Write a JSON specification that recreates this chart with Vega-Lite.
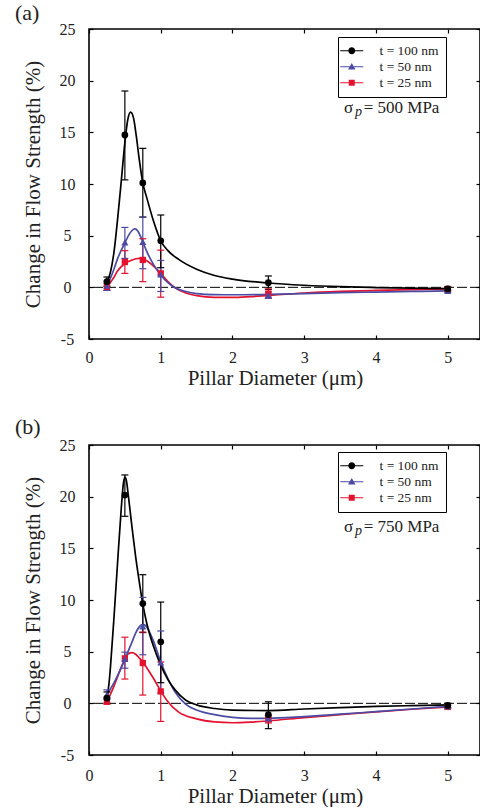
{
  "$schema": "https://vega.github.io/schema/vega-lite/v6.json",
  "background": "white",
  "padding": {"left": 14, "top": 1, "right": 0, "bottom": 0},
  "spacing": 26,
  "config": {
    "font": "Liberation Serif",
    "view": {"stroke": "black", "strokeWidth": 1.6},
    "axis": {"grid": false, "domain": false, "tickColor": "black", "tickSize": -4, "tickWidth": 1.2, "labelFont": "Liberation Serif", "labelFontSize": 16, "labelColor": "#222", "titleFont": "Liberation Serif", "titleFontSize": 21, "titleFontWeight": "normal", "titleColor": "#222", "labelFlush": false},
    "legend": {"orient": "none", "title": null, "strokeColor": "black", "fillColor": "white", "padding": 7, "symbolSize": 100, "labelFont": "Liberation Serif", "labelFontSize": 13.5, "labelColor": "#222", "labelOffset": 21, "rowPadding": 1, "symbolStrokeWidth": 0, "symbolOpacity": 1}
  },
  "resolve": {"scale": {"color": "independent", "shape": "independent"}, "legend": {"color": "independent", "shape": "independent"}},
  "datasets": {
    "pts": [
      {"panel":"a","series":"t = 25 nm","d":0.25,"v":0.05,"lo":-0.3,"hi":0.4},
      {"panel":"a","series":"t = 25 nm","d":0.5,"v":2.45,"lo":1.35,"hi":3.55},
      {"panel":"a","series":"t = 25 nm","d":0.75,"v":2.65,"lo":0.55,"hi":4.7},
      {"panel":"a","series":"t = 25 nm","d":1.0,"v":1.35,"lo":-0.95,"hi":3.6},
      {"panel":"a","series":"t = 25 nm","d":2.5,"v":-0.6,"lo":-1.05,"hi":-0.15},
      {"panel":"a","series":"t = 25 nm","d":5.0,"v":-0.15,"lo":-0.35,"hi":0.05},
      {"panel":"a","series":"t = 50 nm","d":0.25,"v":0.15,"lo":-0.3,"hi":0.6},
      {"panel":"a","series":"t = 50 nm","d":0.5,"v":4.35,"lo":2.8,"hi":5.8},
      {"panel":"a","series":"t = 50 nm","d":0.75,"v":4.4,"lo":1.8,"hi":6.8},
      {"panel":"a","series":"t = 50 nm","d":1.0,"v":1.25,"lo":-0.4,"hi":2.6},
      {"panel":"a","series":"t = 50 nm","d":2.5,"v":-0.75,"lo":-1.05,"hi":-0.45},
      {"panel":"a","series":"t = 50 nm","d":5.0,"v":-0.35,"lo":-0.5,"hi":-0.2},
      {"panel":"a","series":"t = 100 nm","d":0.25,"v":0.55,"lo":0.1,"hi":1.0},
      {"panel":"a","series":"t = 100 nm","d":0.5,"v":14.75,"lo":10.4,"hi":19.0},
      {"panel":"a","series":"t = 100 nm","d":0.75,"v":10.1,"lo":6.8,"hi":13.45},
      {"panel":"a","series":"t = 100 nm","d":1.0,"v":4.5,"lo":1.9,"hi":7.0},
      {"panel":"a","series":"t = 100 nm","d":2.5,"v":0.45,"lo":-0.2,"hi":1.1},
      {"panel":"a","series":"t = 100 nm","d":5.0,"v":-0.15,"lo":-0.35,"hi":0.05},
      {"panel":"b","series":"t = 25 nm","d":0.25,"v":0.25,"lo":-0.1,"hi":0.6},
      {"panel":"b","series":"t = 25 nm","d":0.5,"v":4.35,"lo":2.35,"hi":6.4},
      {"panel":"b","series":"t = 25 nm","d":0.75,"v":3.9,"lo":0.8,"hi":6.9},
      {"panel":"b","series":"t = 25 nm","d":1.0,"v":1.15,"lo":-1.75,"hi":4.0},
      {"panel":"b","series":"t = 25 nm","d":2.5,"v":-1.55,"lo":-1.9,"hi":-1.2},
      {"panel":"b","series":"t = 25 nm","d":5.0,"v":-0.35,"lo":-0.5,"hi":-0.2},
      {"panel":"b","series":"t = 50 nm","d":0.25,"v":0.85,"lo":0.4,"hi":1.3},
      {"panel":"b","series":"t = 50 nm","d":0.5,"v":4.3,"lo":3.4,"hi":4.95},
      {"panel":"b","series":"t = 50 nm","d":0.75,"v":7.45,"lo":4.7,"hi":10.25},
      {"panel":"b","series":"t = 50 nm","d":1.0,"v":3.95,"lo":1.0,"hi":7.0},
      {"panel":"b","series":"t = 50 nm","d":2.5,"v":-1.45,"lo":-1.75,"hi":-1.15},
      {"panel":"b","series":"t = 50 nm","d":5.0,"v":-0.3,"lo":-0.45,"hi":-0.15},
      {"panel":"b","series":"t = 100 nm","d":0.25,"v":0.5,"lo":0.0,"hi":1.1},
      {"panel":"b","series":"t = 100 nm","d":0.5,"v":20.15,"lo":18.1,"hi":22.1},
      {"panel":"b","series":"t = 100 nm","d":0.75,"v":9.65,"lo":6.85,"hi":12.45},
      {"panel":"b","series":"t = 100 nm","d":1.0,"v":5.95,"lo":2.0,"hi":9.8},
      {"panel":"b","series":"t = 100 nm","d":2.5,"v":-1.1,"lo":-2.45,"hi":0.15},
      {"panel":"b","series":"t = 100 nm","d":5.0,"v":-0.2,"lo":-0.4,"hi":0.0}
    ],
    "curves": [
      {"panel":"a","series":"t = 25 nm","d":0.25,"v":0.05},{"panel":"a","series":"t = 25 nm","d":0.3,"v":0.5},{"panel":"a","series":"t = 25 nm","d":0.35,"v":1.0},{"panel":"a","series":"t = 25 nm","d":0.4,"v":1.6},{"panel":"a","series":"t = 25 nm","d":0.45,"v":2.0},{"panel":"a","series":"t = 25 nm","d":0.5,"v":2.3},{"panel":"a","series":"t = 25 nm","d":0.55,"v":2.5},{"panel":"a","series":"t = 25 nm","d":0.6,"v":2.65},{"panel":"a","series":"t = 25 nm","d":0.7,"v":2.8},{"panel":"a","series":"t = 25 nm","d":0.75,"v":2.75},{"panel":"a","series":"t = 25 nm","d":0.8,"v":2.6},{"panel":"a","series":"t = 25 nm","d":0.9,"v":2.05},{"panel":"a","series":"t = 25 nm","d":1.0,"v":1.35},{"panel":"a","series":"t = 25 nm","d":1.1,"v":0.55},{"panel":"a","series":"t = 25 nm","d":1.2,"v":-0.05},{"panel":"a","series":"t = 25 nm","d":1.35,"v":-0.55},{"panel":"a","series":"t = 25 nm","d":1.5,"v":-0.8},{"panel":"a","series":"t = 25 nm","d":1.75,"v":-0.97},{"panel":"a","series":"t = 25 nm","d":2.0,"v":-0.98},{"panel":"a","series":"t = 25 nm","d":2.25,"v":-0.9},{"panel":"a","series":"t = 25 nm","d":2.5,"v":-0.78},{"panel":"a","series":"t = 25 nm","d":3.0,"v":-0.55},{"panel":"a","series":"t = 25 nm","d":3.5,"v":-0.4},{"panel":"a","series":"t = 25 nm","d":4.0,"v":-0.3},{"panel":"a","series":"t = 25 nm","d":4.5,"v":-0.22},{"panel":"a","series":"t = 25 nm","d":5.0,"v":-0.15},
      {"panel":"a","series":"t = 50 nm","d":0.25,"v":0.2},{"panel":"a","series":"t = 50 nm","d":0.3,"v":0.9},{"panel":"a","series":"t = 50 nm","d":0.35,"v":1.8},{"panel":"a","series":"t = 50 nm","d":0.4,"v":2.8},{"panel":"a","series":"t = 50 nm","d":0.45,"v":3.6},{"panel":"a","series":"t = 50 nm","d":0.5,"v":4.3},{"panel":"a","series":"t = 50 nm","d":0.55,"v":5.0},{"panel":"a","series":"t = 50 nm","d":0.6,"v":5.5},{"panel":"a","series":"t = 50 nm","d":0.64,"v":5.65},{"panel":"a","series":"t = 50 nm","d":0.68,"v":5.45},{"panel":"a","series":"t = 50 nm","d":0.72,"v":4.9},{"panel":"a","series":"t = 50 nm","d":0.75,"v":4.4},{"panel":"a","series":"t = 50 nm","d":0.8,"v":3.55},{"panel":"a","series":"t = 50 nm","d":0.9,"v":2.2},{"panel":"a","series":"t = 50 nm","d":1.0,"v":1.2},{"panel":"a","series":"t = 50 nm","d":1.1,"v":0.45},{"panel":"a","series":"t = 50 nm","d":1.2,"v":-0.05},{"panel":"a","series":"t = 50 nm","d":1.35,"v":-0.4},{"panel":"a","series":"t = 50 nm","d":1.5,"v":-0.6},{"panel":"a","series":"t = 50 nm","d":1.75,"v":-0.7},{"panel":"a","series":"t = 50 nm","d":2.0,"v":-0.72},{"panel":"a","series":"t = 50 nm","d":2.5,"v":-0.68},{"panel":"a","series":"t = 50 nm","d":3.0,"v":-0.6},{"panel":"a","series":"t = 50 nm","d":3.5,"v":-0.52},{"panel":"a","series":"t = 50 nm","d":4.0,"v":-0.46},{"panel":"a","series":"t = 50 nm","d":4.5,"v":-0.4},{"panel":"a","series":"t = 50 nm","d":5.0,"v":-0.35},
      {"panel":"a","series":"t = 100 nm","d":0.25,"v":0.5},{"panel":"a","series":"t = 100 nm","d":0.3,"v":1.5},{"panel":"a","series":"t = 100 nm","d":0.35,"v":3.5},{"panel":"a","series":"t = 100 nm","d":0.4,"v":6.7},{"panel":"a","series":"t = 100 nm","d":0.45,"v":10.3},{"panel":"a","series":"t = 100 nm","d":0.5,"v":14.0},{"panel":"a","series":"t = 100 nm","d":0.54,"v":16.2},{"panel":"a","series":"t = 100 nm","d":0.58,"v":16.95},{"panel":"a","series":"t = 100 nm","d":0.62,"v":16.4},{"panel":"a","series":"t = 100 nm","d":0.66,"v":14.6},{"panel":"a","series":"t = 100 nm","d":0.7,"v":12.4},{"panel":"a","series":"t = 100 nm","d":0.75,"v":10.1},{"panel":"a","series":"t = 100 nm","d":0.8,"v":8.8},{"panel":"a","series":"t = 100 nm","d":0.9,"v":6.4},{"panel":"a","series":"t = 100 nm","d":1.0,"v":4.5},{"panel":"a","series":"t = 100 nm","d":1.1,"v":3.55},{"panel":"a","series":"t = 100 nm","d":1.25,"v":2.7},{"panel":"a","series":"t = 100 nm","d":1.5,"v":1.75},{"panel":"a","series":"t = 100 nm","d":1.75,"v":1.15},{"panel":"a","series":"t = 100 nm","d":2.0,"v":0.8},{"panel":"a","series":"t = 100 nm","d":2.5,"v":0.42},{"panel":"a","series":"t = 100 nm","d":3.0,"v":0.2},{"panel":"a","series":"t = 100 nm","d":3.5,"v":0.06},{"panel":"a","series":"t = 100 nm","d":4.0,"v":-0.02},{"panel":"a","series":"t = 100 nm","d":4.5,"v":-0.08},{"panel":"a","series":"t = 100 nm","d":5.0,"v":-0.12},
      {"panel":"b","series":"t = 25 nm","d":0.25,"v":0.3},{"panel":"b","series":"t = 25 nm","d":0.3,"v":0.9},{"panel":"b","series":"t = 25 nm","d":0.35,"v":1.7},{"panel":"b","series":"t = 25 nm","d":0.4,"v":2.6},{"panel":"b","series":"t = 25 nm","d":0.45,"v":3.5},{"panel":"b","series":"t = 25 nm","d":0.5,"v":4.3},{"panel":"b","series":"t = 25 nm","d":0.55,"v":4.8},{"panel":"b","series":"t = 25 nm","d":0.6,"v":4.9},{"panel":"b","series":"t = 25 nm","d":0.65,"v":4.75},{"panel":"b","series":"t = 25 nm","d":0.7,"v":4.4},{"panel":"b","series":"t = 25 nm","d":0.75,"v":4.0},{"panel":"b","series":"t = 25 nm","d":0.8,"v":3.5},{"panel":"b","series":"t = 25 nm","d":0.9,"v":2.4},{"panel":"b","series":"t = 25 nm","d":1.0,"v":1.2},{"panel":"b","series":"t = 25 nm","d":1.1,"v":0.15},{"panel":"b","series":"t = 25 nm","d":1.25,"v":-0.85},{"panel":"b","series":"t = 25 nm","d":1.5,"v":-1.5},{"panel":"b","series":"t = 25 nm","d":1.75,"v":-1.8},{"panel":"b","series":"t = 25 nm","d":2.0,"v":-1.88},{"panel":"b","series":"t = 25 nm","d":2.25,"v":-1.82},{"panel":"b","series":"t = 25 nm","d":2.5,"v":-1.7},{"panel":"b","series":"t = 25 nm","d":3.0,"v":-1.38},{"panel":"b","series":"t = 25 nm","d":3.5,"v":-1.1},{"panel":"b","series":"t = 25 nm","d":4.0,"v":-0.82},{"panel":"b","series":"t = 25 nm","d":4.5,"v":-0.57},{"panel":"b","series":"t = 25 nm","d":5.0,"v":-0.35},
      {"panel":"b","series":"t = 50 nm","d":0.25,"v":0.85},{"panel":"b","series":"t = 50 nm","d":0.3,"v":1.4},{"panel":"b","series":"t = 50 nm","d":0.35,"v":2.0},{"panel":"b","series":"t = 50 nm","d":0.4,"v":2.7},{"panel":"b","series":"t = 50 nm","d":0.45,"v":3.45},{"panel":"b","series":"t = 50 nm","d":0.5,"v":4.25},{"panel":"b","series":"t = 50 nm","d":0.55,"v":5.1},{"panel":"b","series":"t = 50 nm","d":0.6,"v":5.95},{"panel":"b","series":"t = 50 nm","d":0.65,"v":6.8},{"panel":"b","series":"t = 50 nm","d":0.7,"v":7.4},{"panel":"b","series":"t = 50 nm","d":0.75,"v":7.65},{"panel":"b","series":"t = 50 nm","d":0.8,"v":7.45},{"panel":"b","series":"t = 50 nm","d":0.85,"v":6.8},{"panel":"b","series":"t = 50 nm","d":0.9,"v":6.0},{"panel":"b","series":"t = 50 nm","d":1.0,"v":4.0},{"panel":"b","series":"t = 50 nm","d":1.1,"v":2.4},{"panel":"b","series":"t = 50 nm","d":1.2,"v":1.1},{"panel":"b","series":"t = 50 nm","d":1.35,"v":-0.1},{"panel":"b","series":"t = 50 nm","d":1.5,"v":-0.65},{"panel":"b","series":"t = 50 nm","d":1.75,"v":-1.1},{"panel":"b","series":"t = 50 nm","d":2.0,"v":-1.35},{"panel":"b","series":"t = 50 nm","d":2.25,"v":-1.45},{"panel":"b","series":"t = 50 nm","d":2.5,"v":-1.45},{"panel":"b","series":"t = 50 nm","d":3.0,"v":-1.28},{"panel":"b","series":"t = 50 nm","d":3.5,"v":-1.05},{"panel":"b","series":"t = 50 nm","d":4.0,"v":-0.8},{"panel":"b","series":"t = 50 nm","d":4.5,"v":-0.55},{"panel":"b","series":"t = 50 nm","d":5.0,"v":-0.3},
      {"panel":"b","series":"t = 100 nm","d":0.25,"v":0.5},{"panel":"b","series":"t = 100 nm","d":0.28,"v":2.0},{"panel":"b","series":"t = 100 nm","d":0.3,"v":3.6},{"panel":"b","series":"t = 100 nm","d":0.35,"v":8.5},{"panel":"b","series":"t = 100 nm","d":0.4,"v":13.8},{"panel":"b","series":"t = 100 nm","d":0.45,"v":18.9},{"panel":"b","series":"t = 100 nm","d":0.48,"v":21.3},{"panel":"b","series":"t = 100 nm","d":0.5,"v":21.9},{"panel":"b","series":"t = 100 nm","d":0.52,"v":21.6},{"panel":"b","series":"t = 100 nm","d":0.55,"v":20.0},{"panel":"b","series":"t = 100 nm","d":0.6,"v":17.0},{"panel":"b","series":"t = 100 nm","d":0.65,"v":14.2},{"panel":"b","series":"t = 100 nm","d":0.7,"v":11.8},{"panel":"b","series":"t = 100 nm","d":0.75,"v":9.6},{"panel":"b","series":"t = 100 nm","d":0.8,"v":7.9},{"panel":"b","series":"t = 100 nm","d":0.9,"v":5.5},{"panel":"b","series":"t = 100 nm","d":1.0,"v":3.7},{"panel":"b","series":"t = 100 nm","d":1.1,"v":2.3},{"panel":"b","series":"t = 100 nm","d":1.2,"v":1.3},{"panel":"b","series":"t = 100 nm","d":1.35,"v":0.3},{"panel":"b","series":"t = 100 nm","d":1.5,"v":-0.15},{"panel":"b","series":"t = 100 nm","d":1.75,"v":-0.5},{"panel":"b","series":"t = 100 nm","d":2.0,"v":-0.65},{"panel":"b","series":"t = 100 nm","d":2.5,"v":-0.7},{"panel":"b","series":"t = 100 nm","d":3.0,"v":-0.55},{"panel":"b","series":"t = 100 nm","d":3.5,"v":-0.42},{"panel":"b","series":"t = 100 nm","d":4.0,"v":-0.3},{"panel":"b","series":"t = 100 nm","d":4.5,"v":-0.22},{"panel":"b","series":"t = 100 nm","d":5.0,"v":-0.15}
    ],
    "notes": [
      {"panel":"a","d":3.555,"v":16.87,"txt":"σ","it":false},
      {"panel":"a","d":3.708,"v":16.87,"txt":"p","it":true},
      {"panel":"a","d":3.829,"v":16.87,"txt":"= 500 MPa","it":false},
      {"panel":"b","d":3.555,"v":16.58,"txt":"σ","it":false},
      {"panel":"b","d":3.708,"v":16.58,"txt":"p","it":true},
      {"panel":"b","d":3.829,"v":16.58,"txt":"= 750 MPa","it":false}
    ],
    "zero": [{"z": 0}]
  },
  "vconcat": [
    {
      "width": 391, "height": 310,
      "title": {"text": "(a)", "anchor": "start", "frame": "group", "dx": -74, "dy": 29, "offset": 3, "baseline": "bottom", "fontSize": 22, "fontWeight": "normal", "font": "Liberation Serif", "color": "#222"},
      "resolve": {"axis": {"x": "independent", "y": "independent"}},
      "layer": [
        {"data": {"name": "zero"}, "mark": {"type": "rule", "color": "black", "strokeWidth": 1, "strokeDash": [10, 3]},
         "encoding": {"y": {"field": "z", "type": "quantitative", "scale": {"domain": [-5, 25], "nice": false, "zero": false}, "axis": {"orient": "right", "labels": false, "title": null, "minExtent": 0, "maxExtent": 0, "values": [-5, 0, 5, 10, 15, 20, 25]}}}},
        {"data": {"name": "pts"}, "transform": [{"filter": "datum.panel === 'a' && datum.d > 100"}],
         "mark": {"type": "point", "filled": true, "opacity": 1},
         "encoding": {
           "x": {"field": "d", "type": "quantitative", "scale": {"domain": [0, 5.45], "nice": false, "zero": false}, "axis": null},
           "y": {"field": "v", "type": "quantitative", "scale": {"domain": [-5, 25], "nice": false, "zero": false}, "axis": null},
           "color": {"field": "series", "type": "nominal", "scale": {"domain": ["t = 100 nm", "t = 50 nm", "t = 25 nm"], "range": ["black", "#4b4ba3", "#e4122e"]}, "legend": {"legendX": 249, "legendY": 8}},
           "shape": {"field": "series", "type": "nominal", "scale": {"domain": ["t = 100 nm", "t = 50 nm", "t = 25 nm"], "range": ["M-2.3,-0.12H2.3V0.12H-2.3ZM0.7,0A0.7,0.7,0,1,1,-0.7,0A0.7,0.7,0,1,1,0.7,0Z", "M-2.3,-0.12H2.3V0.12H-2.3ZM0,-0.75L0.75,0.55H-0.75Z", "M-2.3,-0.12H2.3V0.12H-2.3ZM-0.6,-0.6H0.6V0.6H-0.6Z"]}, "legend": {"legendX": 249, "legendY": 8}}
         }},
        {"data": {"name": "curves"}, "transform": [{"filter": "datum.panel === 'a'"}],
         "mark": {"type": "line", "interpolate": "monotone", "strokeWidth": 1.7},
         "encoding": {
           "x": {"field": "d", "type": "quantitative", "scale": {"domain": [0, 5.45], "nice": false, "zero": false}, "axis": {"orient": "bottom", "values": [0, 1, 2, 3, 4, 5], "title": "Pillar Diameter (μm)", "labelPadding": 14, "titlePadding": 2, "titleX": 186}},
           "y": {"field": "v", "type": "quantitative", "scale": {"domain": [-5, 25], "nice": false, "zero": false}, "axis": {"orient": "left", "values": [-5, 0, 5, 10, 15, 20, 25], "title": "Change in Flow Strength (%)", "labelAlign": "center", "labelPadding": 26, "titlePadding": 16, "labelExpr": "'' + datum.value"}},
           "color": {"field": "series", "type": "nominal", "legend": null}
         }},
        {"data": {"name": "pts"}, "transform": [{"filter": "datum.panel === 'a'"}],
         "mark": {"type": "rule", "strokeWidth": 1.2},
         "encoding": {
           "x": {"field": "d", "type": "quantitative", "scale": {"domain": [0, 5.45], "nice": false, "zero": false}, "axis": {"orient": "top", "labels": false, "title": null, "minExtent": 0, "maxExtent": 0, "values": [0, 1, 2, 3, 4, 5]}},
           "y": {"field": "lo", "type": "quantitative", "scale": {"domain": [-5, 25], "nice": false, "zero": false}, "axis": null},
           "y2": {"field": "hi"},
           "color": {"field": "series", "type": "nominal", "legend": null}
         }},
        {"data": {"name": "pts"}, "transform": [{"filter": "datum.panel === 'a'"}],
         "mark": {"type": "tick", "orient": "horizontal", "size": 7, "thickness": 1.2, "opacity": 1},
         "encoding": {
           "x": {"field": "d", "type": "quantitative", "scale": {"domain": [0, 5.45], "nice": false, "zero": false}, "axis": null},
           "y": {"field": "lo", "type": "quantitative", "scale": {"domain": [-5, 25], "nice": false, "zero": false}, "axis": null},
           "color": {"field": "series", "type": "nominal", "legend": null}
         }},
        {"data": {"name": "pts"}, "transform": [{"filter": "datum.panel === 'a'"}],
         "mark": {"type": "tick", "orient": "horizontal", "size": 7, "thickness": 1.2, "opacity": 1},
         "encoding": {
           "x": {"field": "d", "type": "quantitative", "scale": {"domain": [0, 5.45], "nice": false, "zero": false}, "axis": null},
           "y": {"field": "hi", "type": "quantitative", "scale": {"domain": [-5, 25], "nice": false, "zero": false}, "axis": null},
           "color": {"field": "series", "type": "nominal", "legend": null}
         }},
        {"data": {"name": "pts"}, "transform": [{"filter": "datum.panel === 'a' && datum.series === 't = 25 nm'"}],
         "mark": {"type": "point", "shape": "square", "filled": true, "opacity": 1, "size": 40},
         "encoding": {
           "x": {"field": "d", "type": "quantitative", "scale": {"domain": [0, 5.45], "nice": false, "zero": false}, "axis": null},
           "y": {"field": "v", "type": "quantitative", "scale": {"domain": [-5, 25], "nice": false, "zero": false}, "axis": null},
           "color": {"field": "series", "type": "nominal", "legend": null}
         }},
        {"data": {"name": "pts"}, "transform": [{"filter": "datum.panel === 'a' && datum.series === 't = 50 nm'"}],
         "mark": {"type": "point", "shape": "triangle-up", "filled": true, "opacity": 1, "size": 50},
         "encoding": {
           "x": {"field": "d", "type": "quantitative", "scale": {"domain": [0, 5.45], "nice": false, "zero": false}, "axis": null},
           "y": {"field": "v", "type": "quantitative", "scale": {"domain": [-5, 25], "nice": false, "zero": false}, "axis": null},
           "color": {"field": "series", "type": "nominal", "legend": null}
         }},
        {"data": {"name": "pts"}, "transform": [{"filter": "datum.panel === 'a' && datum.series === 't = 100 nm'"}],
         "mark": {"type": "point", "shape": "circle", "filled": true, "opacity": 1, "size": 45},
         "encoding": {
           "x": {"field": "d", "type": "quantitative", "scale": {"domain": [0, 5.45], "nice": false, "zero": false}, "axis": null},
           "y": {"field": "v", "type": "quantitative", "scale": {"domain": [-5, 25], "nice": false, "zero": false}, "axis": null},
           "color": {"field": "series", "type": "nominal", "legend": null}
         }},
        {"data": {"name": "notes"}, "transform": [{"filter": "datum.panel === 'a' && !datum.it"}],
         "mark": {"type": "text", "align": "left", "baseline": "alphabetic", "font": "Liberation Serif", "fontSize": 17, "color": "#222"},
         "encoding": {
           "x": {"field": "d", "type": "quantitative", "scale": {"domain": [0, 5.45], "nice": false, "zero": false}, "axis": null},
           "y": {"field": "v", "type": "quantitative", "scale": {"domain": [-5, 25], "nice": false, "zero": false}, "axis": null},
           "text": {"field": "txt"}
         }},
        {"data": {"name": "notes"}, "transform": [{"filter": "datum.panel === 'a' && datum.it"}],
         "mark": {"type": "text", "align": "left", "baseline": "alphabetic", "font": "Liberation Serif", "fontSize": 14, "fontStyle": "italic", "dy": 3, "color": "#222"},
         "encoding": {
           "x": {"field": "d", "type": "quantitative", "scale": {"domain": [0, 5.45], "nice": false, "zero": false}, "axis": null},
           "y": {"field": "v", "type": "quantitative", "scale": {"domain": [-5, 25], "nice": false, "zero": false}, "axis": null},
           "text": {"field": "txt"}
         }}
      ]
    },
    {
      "width": 391, "height": 310,
      "title": {"text": "(b)", "anchor": "start", "frame": "group", "dx": -74, "dy": 27, "offset": 3, "baseline": "bottom", "fontSize": 22, "fontWeight": "normal", "font": "Liberation Serif", "color": "#222"},
      "resolve": {"axis": {"x": "independent", "y": "independent"}},
      "layer": [
        {"data": {"name": "zero"}, "mark": {"type": "rule", "color": "black", "strokeWidth": 1, "strokeDash": [10, 3]},
         "encoding": {"y": {"field": "z", "type": "quantitative", "scale": {"domain": [-5, 25], "nice": false, "zero": false}, "axis": {"orient": "right", "labels": false, "title": null, "minExtent": 0, "maxExtent": 0, "values": [-5, 0, 5, 10, 15, 20, 25]}}}},
        {"data": {"name": "pts"}, "transform": [{"filter": "datum.panel === 'b' && datum.d > 100"}],
         "mark": {"type": "point", "filled": true, "opacity": 1},
         "encoding": {
           "x": {"field": "d", "type": "quantitative", "scale": {"domain": [0, 5.45], "nice": false, "zero": false}, "axis": null},
           "y": {"field": "v", "type": "quantitative", "scale": {"domain": [-5, 25], "nice": false, "zero": false}, "axis": null},
           "color": {"field": "series", "type": "nominal", "scale": {"domain": ["t = 100 nm", "t = 50 nm", "t = 25 nm"], "range": ["black", "#4b4ba3", "#e4122e"]}, "legend": {"legendX": 249, "legendY": 7}},
           "shape": {"field": "series", "type": "nominal", "scale": {"domain": ["t = 100 nm", "t = 50 nm", "t = 25 nm"], "range": ["M-2.3,-0.12H2.3V0.12H-2.3ZM0.7,0A0.7,0.7,0,1,1,-0.7,0A0.7,0.7,0,1,1,0.7,0Z", "M-2.3,-0.12H2.3V0.12H-2.3ZM0,-0.75L0.75,0.55H-0.75Z", "M-2.3,-0.12H2.3V0.12H-2.3ZM-0.6,-0.6H0.6V0.6H-0.6Z"]}, "legend": {"legendX": 249, "legendY": 7}}
         }},
        {"data": {"name": "curves"}, "transform": [{"filter": "datum.panel === 'b'"}],
         "mark": {"type": "line", "interpolate": "monotone", "strokeWidth": 1.7},
         "encoding": {
           "x": {"field": "d", "type": "quantitative", "scale": {"domain": [0, 5.45], "nice": false, "zero": false}, "axis": {"orient": "bottom", "values": [0, 1, 2, 3, 4, 5], "title": "Pillar Diameter (μm)", "labelPadding": 16, "titlePadding": 2, "titleX": 186}},
           "y": {"field": "v", "type": "quantitative", "scale": {"domain": [-5, 25], "nice": false, "zero": false}, "axis": {"orient": "left", "values": [-5, 0, 5, 10, 15, 20, 25], "title": "Change in Flow Strength (%)", "labelAlign": "center", "labelPadding": 26, "titlePadding": 16, "labelExpr": "'' + datum.value"}},
           "color": {"field": "series", "type": "nominal", "legend": null}
         }},
        {"data": {"name": "pts"}, "transform": [{"filter": "datum.panel === 'b'"}],
         "mark": {"type": "rule", "strokeWidth": 1.2},
         "encoding": {
           "x": {"field": "d", "type": "quantitative", "scale": {"domain": [0, 5.45], "nice": false, "zero": false}, "axis": {"orient": "top", "labels": false, "title": null, "minExtent": 0, "maxExtent": 0, "values": [0, 1, 2, 3, 4, 5]}},
           "y": {"field": "lo", "type": "quantitative", "scale": {"domain": [-5, 25], "nice": false, "zero": false}, "axis": null},
           "y2": {"field": "hi"},
           "color": {"field": "series", "type": "nominal", "legend": null}
         }},
        {"data": {"name": "pts"}, "transform": [{"filter": "datum.panel === 'b'"}],
         "mark": {"type": "tick", "orient": "horizontal", "size": 7, "thickness": 1.2, "opacity": 1},
         "encoding": {
           "x": {"field": "d", "type": "quantitative", "scale": {"domain": [0, 5.45], "nice": false, "zero": false}, "axis": null},
           "y": {"field": "lo", "type": "quantitative", "scale": {"domain": [-5, 25], "nice": false, "zero": false}, "axis": null},
           "color": {"field": "series", "type": "nominal", "legend": null}
         }},
        {"data": {"name": "pts"}, "transform": [{"filter": "datum.panel === 'b'"}],
         "mark": {"type": "tick", "orient": "horizontal", "size": 7, "thickness": 1.2, "opacity": 1},
         "encoding": {
           "x": {"field": "d", "type": "quantitative", "scale": {"domain": [0, 5.45], "nice": false, "zero": false}, "axis": null},
           "y": {"field": "hi", "type": "quantitative", "scale": {"domain": [-5, 25], "nice": false, "zero": false}, "axis": null},
           "color": {"field": "series", "type": "nominal", "legend": null}
         }},
        {"data": {"name": "pts"}, "transform": [{"filter": "datum.panel === 'b' && datum.series === 't = 25 nm'"}],
         "mark": {"type": "point", "shape": "square", "filled": true, "opacity": 1, "size": 40},
         "encoding": {
           "x": {"field": "d", "type": "quantitative", "scale": {"domain": [0, 5.45], "nice": false, "zero": false}, "axis": null},
           "y": {"field": "v", "type": "quantitative", "scale": {"domain": [-5, 25], "nice": false, "zero": false}, "axis": null},
           "color": {"field": "series", "type": "nominal", "legend": null}
         }},
        {"data": {"name": "pts"}, "transform": [{"filter": "datum.panel === 'b' && datum.series === 't = 50 nm'"}],
         "mark": {"type": "point", "shape": "triangle-up", "filled": true, "opacity": 1, "size": 50},
         "encoding": {
           "x": {"field": "d", "type": "quantitative", "scale": {"domain": [0, 5.45], "nice": false, "zero": false}, "axis": null},
           "y": {"field": "v", "type": "quantitative", "scale": {"domain": [-5, 25], "nice": false, "zero": false}, "axis": null},
           "color": {"field": "series", "type": "nominal", "legend": null}
         }},
        {"data": {"name": "pts"}, "transform": [{"filter": "datum.panel === 'b' && datum.series === 't = 100 nm'"}],
         "mark": {"type": "point", "shape": "circle", "filled": true, "opacity": 1, "size": 45},
         "encoding": {
           "x": {"field": "d", "type": "quantitative", "scale": {"domain": [0, 5.45], "nice": false, "zero": false}, "axis": null},
           "y": {"field": "v", "type": "quantitative", "scale": {"domain": [-5, 25], "nice": false, "zero": false}, "axis": null},
           "color": {"field": "series", "type": "nominal", "legend": null}
         }},
        {"data": {"name": "notes"}, "transform": [{"filter": "datum.panel === 'b' && !datum.it"}],
         "mark": {"type": "text", "align": "left", "baseline": "alphabetic", "font": "Liberation Serif", "fontSize": 17, "color": "#222"},
         "encoding": {
           "x": {"field": "d", "type": "quantitative", "scale": {"domain": [0, 5.45], "nice": false, "zero": false}, "axis": null},
           "y": {"field": "v", "type": "quantitative", "scale": {"domain": [-5, 25], "nice": false, "zero": false}, "axis": null},
           "text": {"field": "txt"}
         }},
        {"data": {"name": "notes"}, "transform": [{"filter": "datum.panel === 'b' && datum.it"}],
         "mark": {"type": "text", "align": "left", "baseline": "alphabetic", "font": "Liberation Serif", "fontSize": 14, "fontStyle": "italic", "dy": 3, "color": "#222"},
         "encoding": {
           "x": {"field": "d", "type": "quantitative", "scale": {"domain": [0, 5.45], "nice": false, "zero": false}, "axis": null},
           "y": {"field": "v", "type": "quantitative", "scale": {"domain": [-5, 25], "nice": false, "zero": false}, "axis": null},
           "text": {"field": "txt"}
         }}
      ]
    }
  ]
}
